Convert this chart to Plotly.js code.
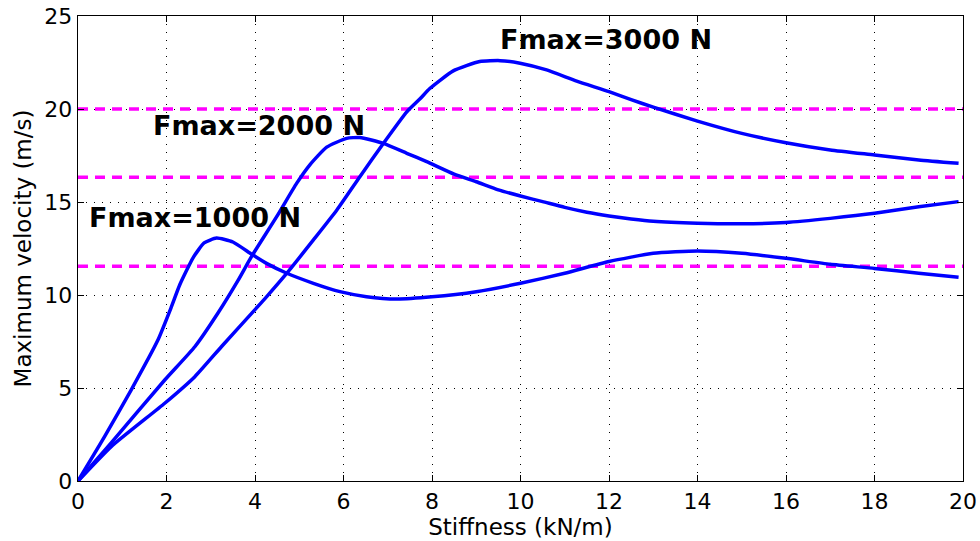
<!DOCTYPE html>
<html>
<head>
<meta charset="utf-8">
<script src="https://cdn.plot.ly/plotly-3.0.1.min.js"></script>
<style>html,body{margin:0;padding:0;background:#fff}#chart{width:980px;height:541px}</style>
</head>
<body>
<div id="chart"></div>
<script>
// Fmax = 1000 N
const x1000 = [0, 0.6, 1.2, 1.8, 2.1, 2.3, 2.6, 2.85, 3.13, 3.5, 3.92, 4.26, 4.72, 5.32, 5.92, 6.52, 7.2, 8.0, 9.0, 10.0, 11.0, 12.0, 13.0, 14.0, 15.0, 16.0, 17.0, 18.0, 19.0, 19.9];
const y1000 = [0, 2.38, 4.89, 7.55, 9.3, 10.55, 12.0, 12.8, 13.06, 12.85, 12.2, 11.7, 11.17, 10.63, 10.18, 9.91, 9.78, 9.9, 10.18, 10.63, 11.17, 11.8, 12.24, 12.37, 12.24, 11.97, 11.65, 11.43, 11.17, 10.95];
// Fmax = 2000 N
const x2000 = [0, 0.75, 1.96, 2.64, 3.16, 3.62, 3.92, 4.49, 4.94, 5.24, 5.62, 6.07, 6.37, 6.9, 7.43, 7.88, 8.5, 9.0, 9.5, 10.0, 10.5, 11.0, 11.5, 12.0, 12.5, 13.0, 14.0, 15.0, 16.0, 17.0, 18.0, 19.0, 19.9];
const y2000 = [0, 2.05, 5.43, 7.22, 9.02, 10.8, 12.06, 14.21, 16.0, 17.0, 17.95, 18.42, 18.47, 18.15, 17.62, 17.17, 16.5, 16.09, 15.65, 15.32, 15.02, 14.71, 14.45, 14.25, 14.09, 13.96, 13.86, 13.83, 13.9, 14.12, 14.39, 14.75, 15.02];
// Fmax = 3000 N
const x3000 = [0, 0.75, 1.96, 2.64, 3.24, 3.99, 4.26, 4.72, 5.32, 5.85, 6.37, 6.9, 7.43, 7.73, 7.95, 8.48, 9.08, 9.54, 9.99, 10.59, 11.27, 12.0, 12.5, 13.0, 14.0, 15.0, 16.0, 17.0, 18.0, 19.0, 19.9];
const y3000 = [0, 1.85, 4.18, 5.61, 7.22, 9.19, 9.9, 11.17, 12.96, 14.57, 16.36, 18.15, 19.85, 20.55, 21.1, 22.05, 22.55, 22.6, 22.46, 22.1, 21.5, 20.93, 20.5, 20.1, 19.35, 18.69, 18.19, 17.8, 17.53, 17.26, 17.08];
// Reference levels (m/s)
const refLevels = [20, 16.33, 11.55];
const xRange = [0, 20];
// Labels
const labelTexts = ["Fmax=1000 N", "Fmax=2000 N", "Fmax=3000 N"];
const labelX = [0.2, 1.65, 9.5];
const labelY = [14.15, 19.1, 23.75];

const blue = '#0000ff';
const traces = [];
refLevels.forEach(v => {
  traces.push({x: xRange, y: [v, v], mode: 'lines', line: {color: '#ff00ff', width: 3.5, dash: '10px,7px'}, hoverinfo: 'skip'});
});
[[x1000, y1000], [x2000, y2000], [x3000, y3000]].forEach(([xs, ys]) => {
  traces.push({x: xs, y: ys, mode: 'lines', line: {color: blue, width: 3.5, shape: 'spline', smoothing: 0.5}});
});

const axisCommon = {
  showline: true, linecolor: '#000', linewidth: 1.3, mirror: 'ticks',
  ticks: 'inside', ticklen: 6, tickcolor: '#000', tickwidth: 1,
  showgrid: true, gridcolor: '#000', gridwidth: 1, griddash: '1px,7px',
  zeroline: false,
  tickfont: {family: 'DejaVu Sans', size: 22, color: '#000'}
};

const annotations = labelTexts.map((t, i) => ({
  x: labelX[i], y: labelY[i], xref: 'x', yref: 'y', text: '<b>' + t + '</b>',
  showarrow: false, xanchor: 'left', yanchor: 'middle',
  font: {family: 'DejaVu Sans', size: 27, color: '#000'}
}));

const layout = {
  width: 980, height: 541,
  margin: {l: 78, r: 17, t: 16, b: 60},
  paper_bgcolor: '#fff', plot_bgcolor: '#fff',
  showlegend: false,
  xaxis: Object.assign({}, axisCommon, {
    range: xRange, dtick: 2, tick0: 0,
    title: {text: 'Stiffness (kN/m)', standoff: 1, font: {family: 'DejaVu Sans', size: 23, color: '#000'}}
  }),
  yaxis: Object.assign({}, axisCommon, {
    range: [0, 25], dtick: 5, tick0: 0,
    title: {text: 'Maximum velocity (m/s)', standoff: 6, font: {family: 'DejaVu Sans', size: 23, color: '#000'}}
  }),
  annotations: annotations
};

Plotly.newPlot('chart', traces, layout, {displayModeBar: false, staticPlot: true});
</script>
</body>
</html>
